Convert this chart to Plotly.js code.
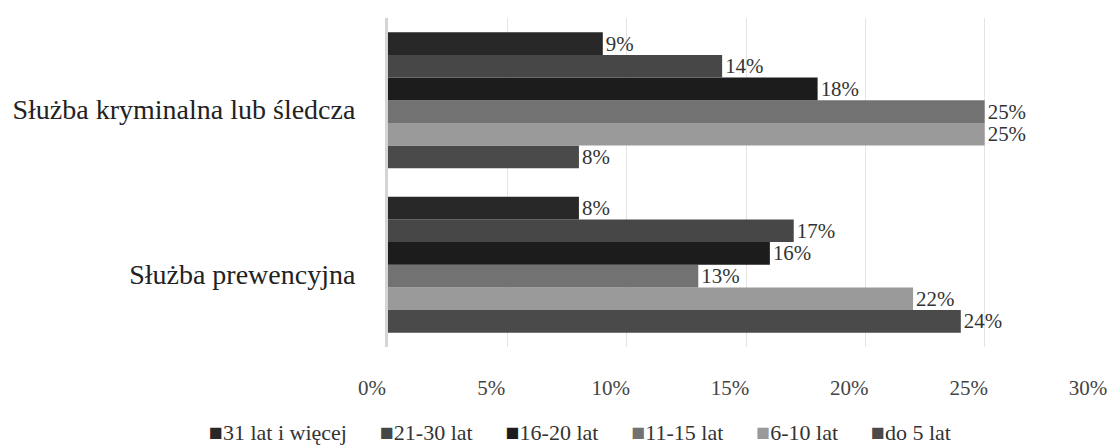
<!DOCTYPE html>
<html>
<head>
<meta charset="utf-8">
<script src="https://cdn.plot.ly/plotly-3.0.1.min.js"></script>
<style>html,body{margin:0;padding:0;background:#fff;}#chart{width:1108px;height:446px;}</style>
</head>
<body>
<div id="chart"></div>
<script>
const categories = ["Służba prewencyjna", "Służba kryminalna lub śledcza"];
const seriesNames = ["do 5 lat", "6-10 lat", "11-15 lat", "16-20 lat", "21-30 lat", "31 lat i więcej"];
const do5 = [24, 8];
const s6_10 = [22, 25];
const s11_15 = [13, 25];
const s16_20 = [16, 18];
const s21_30 = [17, 14];
const s31plus = [8, 9];
const tickVals = [0, 5, 10, 15, 20, 25, 30];
const tickText = ["0%", "5%", "10%", "15%", "20%", "25%", "30%"];

const FONT = "Liberation Serif";
const values = [do5, s6_10, s11_15, s16_20, s21_30, s31plus];
const colors = ["#4a4a4a", "#9a9a9a", "#727272", "#1c1c1c", "#474747", "#282828"];

const traces = values.map((v, i) => ({
  type: "bar",
  orientation: "h",
  name: seriesNames[i],
  y: categories,
  x: v,
  text: v.map(d => d + "%"),
  textposition: "outside",
  cliponaxis: false,
  textfont: {family: FONT, size: 24, color: "#333"},
  marker: {color: colors[i], line: {width: 0}},
  hoverinfo: "none",
  showlegend: false
}));

// Legend drawn as one centred text line, built from the series names and colours (reversed order like the original)
const legendParts = [];
for (let i = seriesNames.length - 1; i >= 0; i--) {
  legendParts.push('<span style="color:' + colors[i] + ';font-size:23px">■</span>' + seriesNames[i]);
}
const legendText = legendParts.join('&nbsp;&nbsp;&nbsp;&nbsp;&nbsp;&nbsp;');

const layout = {
  width: 1108, height: 446,
  font: {family: FONT, size: 21, color: "#333"},
  margin: {l: 388, r: 4, t: 18, b: 99},
  paper_bgcolor: "#fff", plot_bgcolor: "#fff",
  barmode: "group",
  bargap: 0.173,
  bargroupgap: 0,
  showlegend: false,
  annotations: [{
    xref: "paper", yref: "paper",
    x: 0.268, xanchor: "center",
    y: -0.261, yanchor: "middle",
    text: legendText, showarrow: false,
    font: {family: FONT, size: 22, color: "#333"}
  }],
  xaxis: {
    range: [0, 30],
    tickvals: tickVals, ticktext: tickText,
    showgrid: true, gridcolor: "#e4e4e4", gridwidth: 1,
    zeroline: false, showline: false,
    ticks: "outside", ticklen: 22, tickcolor: "rgba(0,0,0,0)",
    ticklabelshift: -16,
    tickfont: {family: FONT, size: 21, color: "#444"},
    fixedrange: true
  },
  yaxis: {
    type: "category",
    showgrid: false, zeroline: false,
    showline: true, linecolor: "#d4d4d4", linewidth: 3,
    ticks: "outside", ticklen: 24, tickcolor: "rgba(0,0,0,0)",
    ticklabelshift: 9,
    tickfont: {family: FONT, size: 28, color: "#222"},
    fixedrange: true
  }
};

Plotly.newPlot("chart", traces, layout, {displayModeBar: false, staticPlot: true});
</script>
</body>
</html>
